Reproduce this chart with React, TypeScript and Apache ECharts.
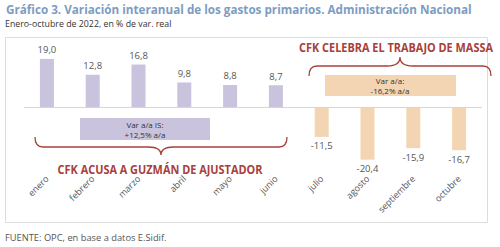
import React, { useEffect, useRef } from "react";
import * as echarts from "echarts";

const meses = ["enero", "febrero", "marzo", "abril", "mayo", "junio", "julio", "agosto", "septiembre", "octubre"];
const variacion = [19.0, 12.8, 16.8, 9.8, 8.8, 8.7, -11.5, -20.4, -15.9, -16.7];
const titulo = "Gráfico 3. Variación interanual de los gastos primarios. Administración Nacional";
const subtitulo = "Enero-octubre de 2022, en % de var. real";
const fuente = "FUENTE: OPC, en base a datos E.Sidif.";
const notaPrimerSemestre = ["Var a/a IS:", "+12,5% a/a"];
const notaSegundoPeriodo = ["Var a/a:", "-16,2% a/a"];
const leyendaAbajo = "CFK ACUSA A GUZMÁN DE AJUSTADOR";
const leyendaArriba = "CFK CELEBRA EL TRABAJO DE MASSA";

const LILA = "#c9c3dd";
const DURAZNO = "#f3d5b4";
const ROJO = "#a8403a";
const FONT = "'Open Sans', 'Noto Sans', sans-serif";

const fmt = (v: number) => v.toFixed(1).replace(".", ",");

// curly brace: ends at yEnd, flat part at yMid, tip at yTip
function bracePath(x0: number, x1: number, yEnd: number, yMid: number, yTip: number) {
  const xm = (x0 + x1) / 2;
  const r = 8;
  return [
    `M${x0} ${yEnd}`,
    `Q${x0} ${yMid} ${x0 + r} ${yMid}`,
    `L${xm - r * 1.6} ${yMid}`,
    `Q${xm} ${yMid} ${xm} ${yTip}`,
    `Q${xm} ${yMid} ${xm + r * 1.6} ${yMid}`,
    `L${x1 - r} ${yMid}`,
    `Q${x1} ${yMid} ${x1} ${yEnd}`,
  ].join(" ");
}

echarts.graphic.registerShape("llaveAbajo", echarts.graphic.extendPath(bracePath(35, 287, 137, 147, 155), {}));
echarts.graphic.registerShape("llaveArriba", echarts.graphic.extendPath(bracePath(309, 491, 76, 66, 57), {}));

const nota = (lineas: string[], cx: number, cy: number) => ({
  type: "group",
  children: lineas.map((t, i) => ({
    type: "text",
    x: cx,
    y: cy + (i - (lineas.length - 1) / 2) * 10,
    style: { text: t, fill: "#333", font: `8px ${FONT}`, align: "center", verticalAlign: "middle" },
  })),
});

export default function App() {
  const ref = useRef<HTMLDivElement>(null);
  useEffect(() => {
    if (!ref.current) return;
    const chart = echarts.init(ref.current, null, { renderer: "svg" });
    chart.setOption({
      animation: false,
      backgroundColor: "#ffffff",
      grid: { left: 24, right: 18, top: 41, bottom: 73, containLabel: false },
      xAxis: {
        type: "category",
        data: meses,
        axisLine: { show: false },
        axisTick: { show: false },
        axisLabel: { rotate: 45, margin: 3, fontSize: 9, color: "#555", fontFamily: FONT, interval: 0 },
      },
      yAxis: { type: "value", min: -26, max: 26, show: false, splitLine: { show: false } },
      series: [
        {
          type: "bar",
          barWidth: 14,
          data: variacion.map((v) => ({
            value: v,
            itemStyle: { color: v >= 0 ? LILA : DURAZNO },
            label: { position: v >= 0 ? "top" : "bottom" },
          })),
          label: {
            show: true,
            distance: 4,
            fontSize: 9.5,
            color: "#555",
            fontFamily: FONT,
            formatter: (p: any) => fmt(p.value),
          },
          markLine: {
            silent: true,
            symbol: "none",
            label: { show: false },
            lineStyle: { color: "#d6d6d6", width: 1, type: "solid" },
            data: [{ yAxis: 0 }],
          },
        },
      ],
      graphic: [
        { type: "rect", shape: { x: 5.5, y: 37.5, width: 482, height: 185 }, style: { fill: "none", stroke: "#dcdcdc", lineWidth: 1 }, z: -1 },
        { type: "text", x: 6, y: 3, scaleX: 0.935, style: { text: titulo, fill: "#7d9cc2", font: `bold 12.5px ${FONT}` } },
        { type: "text", x: 5, y: 19, style: { text: subtitulo, fill: "#333", font: `8.8px ${FONT}` } },
        { type: "text", x: 5, y: 233, style: { text: fuente, fill: "#555", font: `9.3px ${FONT}` } },
        { type: "rect", shape: { x: 80, y: 118, width: 130, height: 22 }, style: { fill: LILA } },
        nota(notaPrimerSemestre, 145, 129),
        { type: "rect", shape: { x: 325, y: 75, width: 131, height: 21 }, style: { fill: DURAZNO } },
        nota(notaSegundoPeriodo, 390, 85.5),
        { type: "llaveAbajo", x: 0, y: 0, style: { fill: "none", stroke: ROJO, lineWidth: 1.3 } },
        { type: "llaveArriba", x: 0, y: 0, style: { fill: "none", stroke: ROJO, lineWidth: 1.3 } },
        { type: "text", x: 160, y: 169, scaleX: 0.84, style: { text: leyendaAbajo, fill: ROJO, font: `bold 13px ${FONT}`, align: "center", verticalAlign: "middle" } },
        { type: "text", x: 396, y: 47, scaleX: 0.84, style: { text: leyendaArriba, fill: ROJO, font: `bold 13px ${FONT}`, align: "center", verticalAlign: "middle" } },
      ],
    });
    return () => chart.dispose();
  }, []);
  return <div ref={ref} style={{ position: "fixed", left: 0, top: 0, width: 500, height: 247 }} />;
}
